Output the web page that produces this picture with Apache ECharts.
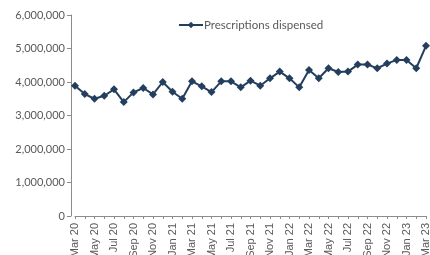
<!DOCTYPE html>
<html>
<head>
<meta charset="utf-8">
<script src="https://cdn.jsdelivr.net/npm/echarts@6/dist/echarts.min.js"></script>
<style>
  html, body { margin: 0; padding: 0; background: #fff; }
  #chart { width: 430px; height: 255px; }
</style>
</head>
<body>
<div id="chart"></div>
<script>
  // months Mar 20 .. Mar 23
  var months = ['Mar 20','Apr 20','May 20','Jun 20','Jul 20','Aug 20','Sep 20','Oct 20','Nov 20','Dec 20',
                'Jan 21','Feb 21','Mar 21','Apr 21','May 21','Jun 21','Jul 21','Aug 21','Sep 21','Oct 21','Nov 21','Dec 21',
                'Jan 22','Feb 22','Mar 22','Apr 22','May 22','Jun 22','Jul 22','Aug 22','Sep 22','Oct 22','Nov 22','Dec 22',
                'Jan 23','Feb 23','Mar 23'];
  var dispensed = [3890000,3640000,3500000,3590000,3780000,3400000,3690000,3820000,3630000,4000000,
                   3710000,3500000,4020000,3870000,3700000,4020000,4020000,3840000,4040000,3890000,4110000,4310000,
                   4110000,3840000,4360000,4110000,4410000,4300000,4310000,4520000,4520000,4410000,4550000,4660000,
                   4660000,4410000,5080000];
  var seriesName = 'Prescriptions dispensed';

  var myChart = echarts.init(document.getElementById('chart'));
  var axisColor = '#8c8c8c';
  var textColor = '#595959';
  myChart.setOption({
    animation: false,
    legend: {
      left: 173,
      top: 14,
      itemWidth: 24,
      itemHeight: 8,
      itemGap: 4,
      textStyle: { color: textColor, fontSize: 11.5, fontFamily: 'Lato', padding: [0, 0, 0, -4] },
      data: [seriesName]
    },
    grid: { left: 75, right: 4, top: 15, bottom: 39, containLabel: false, outerBoundsMode: 'none' },
    xAxis: {
      type: 'category',
      boundaryGap: false,
      data: months,
      axisLine: { lineStyle: { color: axisColor, width: 1 } },
      axisTick: { show: true, interval: 0, length: 3, lineStyle: { color: axisColor } },
      axisLabel: {
        interval: 1,
        rotate: 90,
        margin: 7,
        color: textColor,
        fontSize: 11,
        fontFamily: 'Liberation Sans'
      },
      splitLine: { show: false }
    },
    yAxis: {
      type: 'value',
      min: 0,
      max: 6000000,
      interval: 1000000,
      offset: 4,
      axisLine: { show: true, lineStyle: { color: axisColor, width: 1 } },
      axisTick: { show: true, length: 4, lineStyle: { color: axisColor } },
      axisLabel: {
        margin: 6,
        color: textColor,
        fontSize: 11,
        fontFamily: 'Lato',
        formatter: function (v) { return v.toLocaleString('en-US'); }
      },
      splitLine: { show: false }
    },
    series: [{
      name: seriesName,
      type: 'line',
      data: dispensed,
      symbol: 'diamond',
      symbolSize: 8,
      showAllSymbol: true,
      lineStyle: { color: '#243f5e', width: 2 },
      itemStyle: { color: '#243f5e' }
    }]
  });
</script>
</body>
</html>
